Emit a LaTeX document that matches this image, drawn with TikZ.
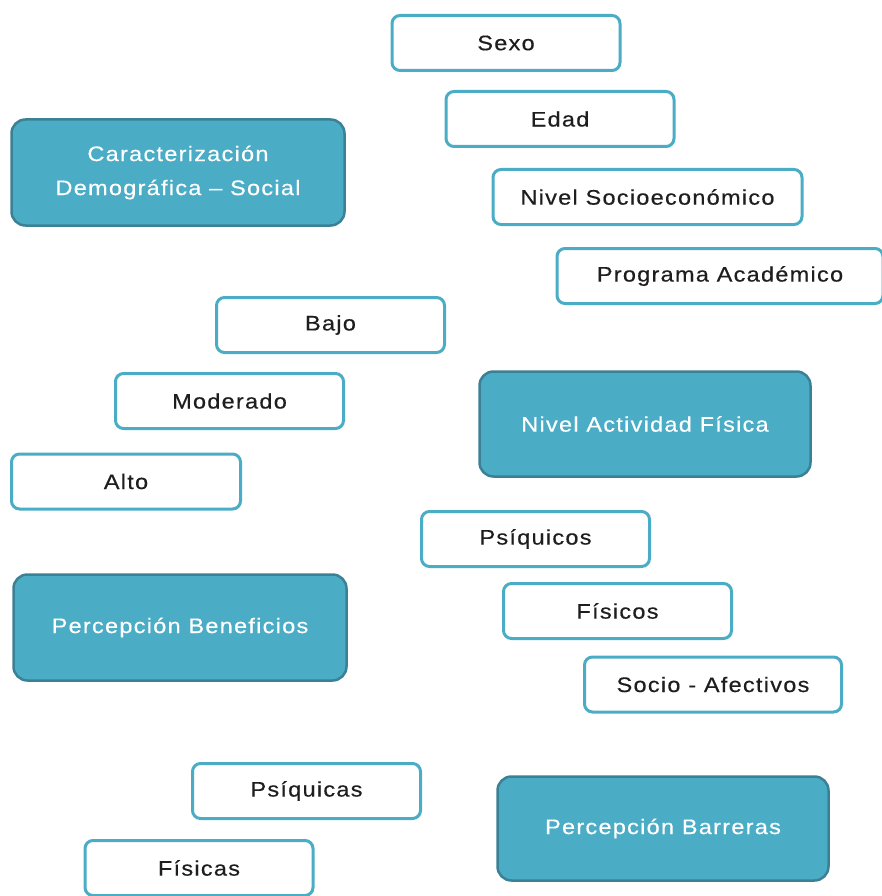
\documentclass[tikz,border=0pt]{standalone}
\usepackage{fontspec}
\setmainfont{Liberation Sans}[LetterSpace=6, FakeStretch=1.12, FakeBold=0.4]
\definecolor{tealfill}{HTML}{4BACC6}
\definecolor{tealdark}{HTML}{3B8196}
\definecolor{txtdark}{HTML}{1E1E1E}
\begin{document}
\begin{tikzpicture}[x=1pt,y=-1pt,
  wbox/.style={draw=tealfill, line width=3pt, fill=white, rounded corners=8pt,
    minimum height=55pt, text=txtdark, font=\fontsize{21}{25}\selectfont, inner sep=0pt},
  tbox/.style={draw=tealdark, line width=2.5pt, fill=tealfill, rounded corners=14pt,
    text=white, font=\fontsize{21}{34}\selectfont, align=center, inner sep=0pt}]
\useasboundingbox (0,0) rectangle (882,896);
\clip (0,0) rectangle (882,896);
% white boxes
\node[wbox, minimum width=228pt] (sexo) at (506,43) {Sexo};
\node[wbox, minimum width=228pt] (edad) at (560,119) {Edad};
\node[wbox, minimum width=309pt] (nivsoc) at (647.5,197) {Nivel Socioeconómico};
\node[wbox, minimum width=326pt] (prog) at (720,276) {Programa Académico};
\node[wbox, minimum width=228pt] (bajo) at (330.5,325) {Bajo};
\node[wbox, minimum width=228pt] (mod) at (229.5,401) {Moderado};
\node[wbox, minimum width=229pt] (alto) at (126,481.5) {Alto};
\node[wbox, minimum width=228pt] (psiq) at (535.5,539) {Psíquicos};
\node[wbox, minimum width=228pt] (fisi) at (617.5,611) {Físicos};
\node[wbox, minimum width=257pt] (socio) at (713,684.5) {Socio - Afectivos};
\node[wbox, minimum width=228pt] (psiqa) at (306.5,791) {Psíquicas};
\node[wbox, minimum width=228pt] (fisa) at (199,868) {Físicas};
% teal boxes
\node[tbox, minimum width=333pt, minimum height=106pt] (carac) at (178,172.5) {Caracterización\\Demográfica – Social};
\node[tbox, minimum width=331pt, minimum height=105pt] (naf) at (645,424) {Nivel Actividad Física};
\node[tbox, minimum width=333pt, minimum height=106pt] (pben) at (180,627.5) {Percepción Beneficios};
\node[tbox, minimum width=331pt, minimum height=104pt] (pbar) at (663,828.5) {Percepción Barreras};
\end{tikzpicture}
\end{document}
